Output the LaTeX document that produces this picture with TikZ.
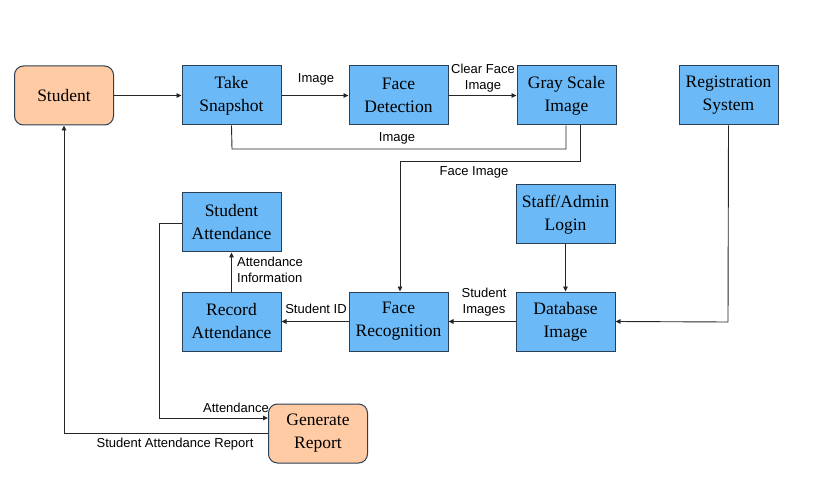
\documentclass[tikz,border=0pt]{standalone}
\usepackage{fontspec}
\setmainfont{Liberation Serif}
\newfontfamily\lblfont{Liberation Sans}
\usetikzlibrary{arrows.meta}
\definecolor{boxblue}{HTML}{6BB9F7}
\definecolor{boxpeach}{HTML}{FFCBA4}
\definecolor{boxline}{HTML}{2B3F55}
\tikzset{
  x=1pt,y=-1pt,
  proc/.style={draw=boxline,line width=1pt,fill=boxblue,minimum width=99pt,minimum height=59pt,inner sep=0pt,align=center,font=\fontsize{17.5}{23}\selectfont},
  term/.style={proc,fill=boxpeach,rounded corners=9pt},
  conn/.style={line width=0.9pt,draw=black!85,-{Triangle[length=5pt,width=4.5pt]}},
  plain/.style={line width=0.9pt,draw=black!85},
  lbl/.style={font=\lblfont\fontsize{13}{16}\selectfont,inner sep=0pt,align=center}
}
\begin{document}
\begin{tikzpicture}
\useasboundingbox (0,0) rectangle (822,497);
\node[term] (student) at (64,95.5) {Student};
\node[proc] (snap) at (231.5,95.5) {Take\\Snapshot};
\node[proc] (fdet) at (398.5,95.5) {Face\\Detection};
\node[proc] (gray) at (566.5,95.5) {Gray Scale\\Image};
\node[proc] (reg) at (728.5,95.5) {Registration\\System};
\node[proc] (satt) at (231.5,222.5) {Student\\Attendance};
\node[proc] (staff) at (565.5,214.5) {Staff/Admin\\Login};
\node[proc] (rec) at (231.5,321.5) {Record\\Attendance};
\node[proc] (frec) at (398.5,321.5) {Face\\Recognition};
\node[proc] (db) at (565.5,321.5) {Database\\Image};
\node[term] (gen) at (318,433.5) {Generate\\Report};

\coordinate (c1) at (232,149);
\coordinate (c2) at (566,149);
\coordinate (c3) at (580,161);
\coordinate (c4) at (400,161);
\coordinate (c5) at (728,322);
\coordinate (c6) at (159,223);
\coordinate (c7) at (159,418);
\coordinate (c8) at (64,433);

\draw[conn] (student.east) -- (snap.west);
\draw[conn] (snap.east) -- (fdet.west);
\draw[conn] (fdet.east) -- (gray.west);
\draw[plain] (snap.south) -- (c1) -- (c2) -- (gray.south -| c2);
\draw[conn] (gray.south -| c3) -- (c3) -- (c4) -- (frec.north -| c4);
\draw[conn] (reg.south) -- (c5) -- (db.east);
\draw[conn] (staff.south) -- (db.north -| staff.south);
\draw[conn] (db.west) -- (frec.east);
\draw[conn] (frec.west) -- (rec.east);
\draw[conn] (rec.north) -- (satt.south);
\draw[conn] (satt.west |- c6) -- (c6) -- (c7) -- (gen.west |- c7);
\draw[conn] (gen.west |- c8) -- (c8) -- (student.south);

\node[lbl] (l1) at (316,79) {Image};
\node[lbl] (l2) at (483,78) {Clear Face\\Image};
\node[lbl] (l3) at (397,138) {Image};
\node[lbl] (l4) at (474,172) {Face Image};
\node[lbl,align=left,anchor=west] (l5) at (237,270) {Attendance\\Information};
\node[lbl] (l6) at (316,309) {Student ID};
\node[lbl] (l7) at (484,302) {Student\\Images};
\node[lbl] (l8) at (236,408) {Attendance};
\node[lbl] (l9) at (175,444) {Student Attendance Report};
\end{tikzpicture}
\end{document}
